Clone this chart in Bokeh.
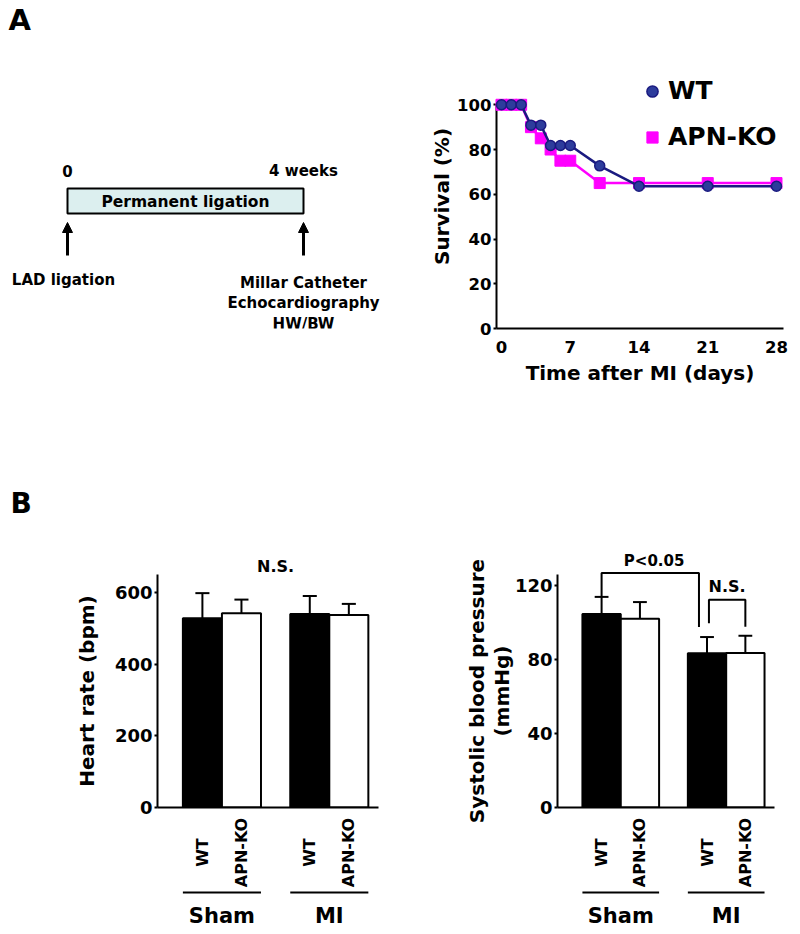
import math
from bokeh.plotting import figure
from bokeh.models import (Range1d, FixedTicker, Legend, LegendItem, Arrow,
                          NormalHead, ColumnDataSource)
from bokeh.layouts import column, row
from bokeh.core.properties import value
from bokeh.embed import file_html
from bokeh.resources import INLINE

FONT = value("DejaVu Sans")
FONT_NAME = "DejaVu Sans"

# ---------------- data ----------------
# Panel A: timeline
timeline_weeks = [0, 4]
timeline_ticks = ["0", "4 weeks"]
timeline_phase = "Permanent ligation"
timeline_events = ["LAD ligation", "Millar Catheter\nEchocardiography\nHW/BW"]

# Panel A: survival
wt_days = [0, 1, 2, 3, 4, 5, 6, 7, 10, 14, 21, 28]
wt_surv = [100, 100, 100, 90.9, 90.9, 81.8, 81.8, 81.8, 72.7, 63.6, 63.6, 63.6]
ko_days = [0, 1, 2, 3, 4, 5, 6, 7, 10, 14, 21, 28]
ko_surv = [100, 100, 100, 90, 85, 80, 75, 75, 65, 65, 65, 65]
surv_xticks = [0, 7, 14, 21, 28]
surv_yticks = [0, 20, 40, 60, 80, 100]

# Panel B: bar charts
groups = ["Sham", "MI"]
genotypes = ["WT", "APN-KO"]
bar_group = ["Sham", "Sham", "MI", "MI"]
bar_geno = ["WT", "APN-KO", "WT", "APN-KO"]
hr_mean = [528, 542, 540, 537]
hr_sem = [70, 38, 50, 31]
hr_ticks = [0, 200, 400, 600]
sbp_mean = [104.5, 102, 83.3, 83.5]
sbp_sem = [9.3, 9.0, 8.8, 9.3]
sbp_ticks = [0, 40, 80, 120]

WT_LINE = "#1a1a80"
WT_FILL = "#2d3c9c"
KO_COL = "#ff00ff"


def base_fig(**kw):
    p = figure(output_backend="svg", toolbar_location=None, **kw)
    p.grid.visible = False
    p.outline_line_color = None
    p.background_fill_color = "white"
    p.border_fill_color = "white"
    return p


def style_axes(p, tick_size, label_size):
    for ax in p.axis:
        ax.axis_line_width = 2
        ax.axis_line_color = "black"
        ax.major_tick_line_width = 2
        ax.major_tick_line_color = "black"
        ax.minor_tick_line_color = None
        ax.major_tick_in = 0
        ax.major_label_text_font = FONT_NAME
        ax.major_label_text_font_style = "bold"
        ax.major_label_text_font_size = tick_size
        ax.major_label_text_color = "black"
        ax.axis_label_text_font = FONT_NAME
        ax.axis_label_text_font_style = "bold"
        ax.axis_label_text_font_size = label_size
        ax.axis_label_text_color = "black"


# top row: both plots share frame top/bottom (Bokeh aligns them in a row)
TOP_MB_TOP, TOP_MB_BOTTOM, TOP_H = 64, 120, 448
FRAME_TOP_PAGE = TOP_MB_TOP
FRAME_BOT_PAGE = TOP_H - TOP_MB_BOTTOM

# ---------------- timeline ----------------
PX_WEEK = 59.0
tl_x0 = (0 - 67) / PX_WEEK
tl_x1 = (400 - 67) / PX_WEEK
tl = base_fig(width=400, height=TOP_H, x_range=Range1d(tl_x0, tl_x1),
              y_range=Range1d(FRAME_BOT_PAGE, FRAME_TOP_PAGE),
              x_axis_location=None, y_axis_location=None,
              min_border_left=0, min_border_right=0,
              min_border_top=TOP_MB_TOP, min_border_bottom=TOP_MB_BOTTOM)
tl.text(x=[tl_x0], y=[19], x_offset=8, text=["A"], text_font=FONT,
        text_font_style="bold", text_font_size="29px", text_align="left",
        text_baseline="middle", level="overlay")
tl.quad(left=[timeline_weeks[0]], right=[timeline_weeks[1]], top=[188], bottom=[213],
        fill_color="#dcefef", line_color="black", line_width=2)
tl.text(x=timeline_weeks, y=[170, 170], text=timeline_ticks, text_font=FONT,
        text_font_style="bold", text_font_size="15px", text_align="center",
        text_baseline="middle")
tl.text(x=[sum(timeline_weeks) / 2], y=[201], text=[timeline_phase], text_font=FONT,
        text_font_style="bold", text_font_size="15.5px", text_align="center",
        text_baseline="middle")
arrow_src = ColumnDataSource(dict(x=timeline_weeks, y0=[255, 255], y1=[222, 222]))
tl.add_layout(Arrow(end=NormalHead(size=10, fill_color="black", line_color="black"),
                    x_start="x", y_start="y0", x_end="x", y_end="y1",
                    line_width=3, line_color="black", source=arrow_src))
tl.text(x=timeline_weeks, y=[279, 303], text=timeline_events, text_font=FONT,
        text_font_style="bold", text_font_size="15px", text_align="center",
        text_baseline="middle", text_line_height=1.15, x_offset=[-4, 0])

# ---------------- survival ----------------
sv = base_fig(width=392, height=TOP_H, x_range=Range1d(-0.509, 28.713),
              y_range=Range1d(0, 118), min_border_left=96, min_border_right=9,
              min_border_top=TOP_MB_TOP, min_border_bottom=TOP_MB_BOTTOM)
sv.line(ko_days, ko_surv, line_color=KO_COL, line_width=2.5, level="overlay")
ko_r = sv.scatter(ko_days, ko_surv, marker="square", size=11, fill_color=KO_COL,
                  line_color=KO_COL, level="overlay")
sv.line(wt_days, wt_surv, line_color=WT_LINE, line_width=2.5, level="overlay")
wt_r = sv.scatter(wt_days, wt_surv, marker="circle", size=10, fill_color=WT_FILL,
                  line_color=WT_LINE, line_width=1.5, level="overlay")
sv.xaxis.ticker = FixedTicker(ticks=surv_xticks)
sv.yaxis.ticker = FixedTicker(ticks=surv_yticks)
sv.yaxis.bounds = (0, 100)
sv.xaxis.axis_label = "Time after MI (days)"
sv.yaxis.axis_label = "Survival (%)"
style_axes(sv, "16.5px", "20px")
sv.xaxis.major_tick_out = 0
sv.xaxis.major_label_standoff = 12
sv.xaxis.axis_label_standoff = 5
sv.yaxis.major_tick_out = 3
sv.yaxis.major_label_standoff = 2
sv.yaxis.axis_label_standoff = 0
legend = Legend(items=[LegendItem(label="WT", renderers=[wt_r]),
                       LegendItem(label="APN-KO", renderers=[ko_r])],
                location=(142, 177), glyph_width=28, glyph_height=28,
                label_height=28, label_standoff=2, spacing=17, padding=0,
                margin=0, border_line_color=None, background_fill_alpha=0,
                label_text_font=FONT_NAME, label_text_font_style="bold",
                label_text_font_size="25px", label_text_color="black")
sv.add_layout(legend)

# ---------------- bar charts ----------------
GROUP_STEP = 2.75
bar_x = [groups.index(g) * GROUP_STEP + genotypes.index(s)
         for g, s in zip(bar_group, bar_geno)]
bar_fill = ["black" if s == "WT" else "white" for s in bar_geno]
X0, X1 = -1.15, 4.51
CAP = 0.18
BOT_H, BOT_MB_TOP, BOT_MB_BOTTOM = 478, 126, 119
BOT_FRAME_TOP_PAGE = TOP_H + BOT_MB_TOP


def bar_panel(width, mean, sem, y_end, ticks, ylabel, mb_lr, lab_standoff):
    left, right = mb_lr
    p = base_fig(width=width, height=BOT_H, x_range=Range1d(X0, X1),
                 y_range=Range1d(0, y_end), min_border_left=left,
                 min_border_right=right, min_border_top=BOT_MB_TOP,
                 min_border_bottom=BOT_MB_BOTTOM)
    ppu = (BOT_H - BOT_MB_TOP - BOT_MB_BOTTOM) / y_end
    err_top = [m + s for m, s in zip(mean, sem)]
    p.segment(x0=bar_x, y0=mean, x1=bar_x, y1=err_top, line_color="black",
              line_width=2, level="overlay")
    p.segment(x0=[x - CAP for x in bar_x], y0=err_top, x1=[x + CAP for x in bar_x],
              y1=err_top, line_color="black", line_width=2, level="overlay")
    p.vbar(x=bar_x, top=mean, bottom=0, width=1.0, fill_color=bar_fill,
           line_color="black", line_width=2)
    p.yaxis.ticker = FixedTicker(ticks=ticks)
    p.yaxis.axis_label = ylabel
    p.xaxis.ticker = FixedTicker(ticks=[])
    style_axes(p, "18px", "20px")
    p.yaxis.major_tick_out = 3
    p.yaxis.major_label_standoff = 2
    p.yaxis.axis_label_standoff = lab_standoff
    p.yaxis.axis_label_text_line_height = 1.03
    p.xaxis.major_tick_out = 0
    p.xaxis.major_label_text_font_size = "0px"
    # genotype labels (rotated) under bars
    p.text(x=bar_x, y=[0] * 4, text=bar_geno, angle=math.pi / 2, y_offset=45,
           text_font=FONT, text_font_style="bold", text_font_size="16px",
           text_align="center", text_baseline="middle", level="overlay")
    # group underline + labels
    gx0, gx1, gc = [], [], []
    for g in groups:
        xs = [x for x, gg in zip(bar_x, bar_group) if gg == g]
        gx0.append(min(xs) - 0.5)
        gx1.append(max(xs) + 0.5)
        gc.append(sum(xs) / len(xs))
    uy = -85 / ppu
    p.segment(x0=gx0, y0=[uy] * 2, x1=gx1, y1=[uy] * 2, line_color="black",
              line_width=2, level="overlay")
    p.text(x=gc, y=[0, 0], text=groups, y_offset=108, text_font=FONT,
           text_font_style="bold", text_font_size="21px", text_align="center",
           text_baseline="middle", level="overlay")
    return p, ppu, err_top


hr, hr_ppu, hr_err = bar_panel(440, hr_mean, hr_sem, 650, hr_ticks,
                               "Heart rate (bpm)", (157, 62), 13)
hr.text(x=[sum(bar_x) / 4], y=[max(hr_err)], y_offset=-(594 - 567), text=["N.S."],
        text_font=FONT, text_font_style="bold", text_font_size="16px",
        text_align="center", text_baseline="middle", level="overlay")
hr.text(x=[X0], y=[650], x_offset=-147, y_offset=502.5 - BOT_FRAME_TOP_PAGE,
        text=["B"], text_font=FONT, text_font_style="bold", text_font_size="28px",
        text_align="left", text_baseline="middle", level="overlay")

sb, sb_ppu, sb_err = bar_panel(352, sbp_mean, sbp_sem, 125.9, sbp_ticks,
                               "Systolic blood pressure\n(mmHg)", (117, 18), -2)
# P<0.05 bracket between Sham WT and MI WT
p_top = max(sb_err) + 12.9
p_left, p_right = bar_x[0], bar_x[2] - 0.21
sb.multi_line(xs=[[p_left, p_left, p_right, p_right]],
              ys=[[sb_err[0], p_top, p_top, sb_err[2] + 5.4]],
              line_color="black", line_width=2, level="overlay")
sb.text(x=[(p_left + p_right) / 2 + 0.1], y=[p_top], y_offset=-12, text=["P<0.05"],
        text_font=FONT, text_font_style="bold", text_font_size="15px",
        text_align="center", text_baseline="middle", level="overlay")
# N.S. bracket between MI WT and MI APN-KO
n_top = max(sb_err[2:]) + 19.5
n_left, n_right = bar_x[2] + 0.05, bar_x[3]
sb.multi_line(xs=[[n_left, n_left, n_right, n_right]],
              ys=[[sb_err[2] + 7.5, n_top, n_top, sb_err[3] + 4.9]],
              line_color="black", line_width=2, level="overlay")
sb.text(x=[(n_left + n_right) / 2], y=[n_top], y_offset=-13, text=["N.S."],
        text_font=FONT, text_font_style="bold", text_font_size="16px",
        text_align="center", text_baseline="middle", level="overlay")

layout = column(row(tl, sv), row(hr, sb))
open("out.html", "w").write(file_html(layout, INLINE))
